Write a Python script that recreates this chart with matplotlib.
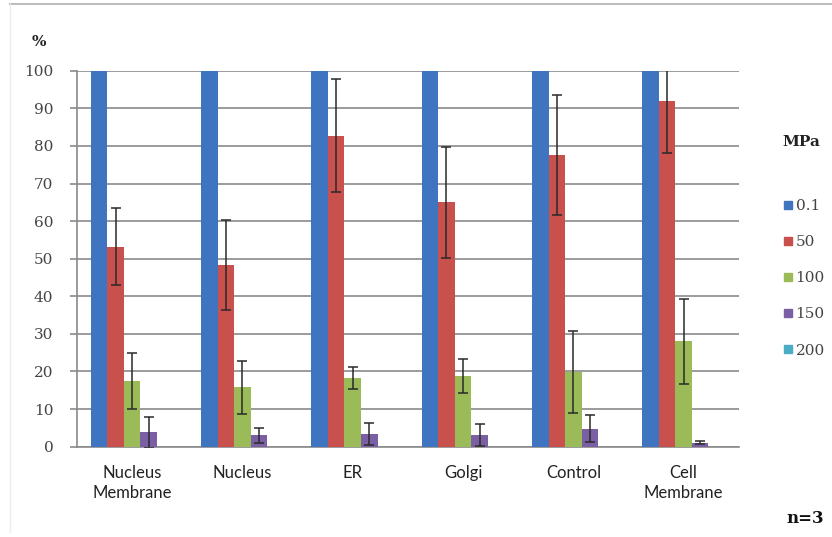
import numpy as np
import matplotlib.pyplot as plt
from matplotlib.lines import Line2D

# survival (%) per organelle target at each pressure, mean with error bars (n = 3)
categories = ["Nucleus\nMembrane", "Nucleus", "ER", "Golgi", "Control", "Cell\nMembrane"]
pressures = ["0.1", "50", "100", "150", "200"]

vals_01 = [100, 100, 100, 100, 100, 100]
vals_50 = [53.2, 48.4, 82.7, 65.0, 77.6, 92.0]
vals_100 = [17.5, 15.8, 18.3, 18.8, 19.9, 28.0]
vals_150 = [3.8, 3.1, 3.4, 3.1, 4.8, 1.1]
vals_200 = [0, 0, 0, 0, 0, 0]

err_01 = [0, 0, 0, 0, 0, 0]
err_50 = [10.3, 12.0, 15.0, 14.8, 16.0, 14.0]
err_100 = [7.5, 7.0, 3.0, 4.4, 11.0, 11.3]
err_150 = [4.2, 2.0, 3.0, 2.8, 3.6, 0.3]
err_200 = [0, 0, 0, 0, 0, 0]

colors = ["#3F74C0", "#C8504D", "#9BBB59", "#7B5FA5", "#4BACC6"]

all_vals = [vals_01, vals_50, vals_100, vals_150, vals_200]
all_errs = [err_01, err_50, err_100, err_150, err_200]

fig = plt.figure(figsize=(8.32, 5.37), dpi=100)
ax = fig.add_axes([0.0925, 0.1682, 0.7955, 0.7001])

x = np.arange(len(categories))
width = 0.15

for i in range(len(pressures)):
    pos = x + (i - 2) * width
    ax.bar(pos, all_vals[i], width, color=colors[i], zorder=3, label=pressures[i])
    if max(all_errs[i]) > 0:
        ax.errorbar(pos, all_vals[i], yerr=all_errs[i], fmt="none", ecolor="#2a2a2a",
                    elinewidth=1.1, capsize=3.5, capthick=1.1, zorder=4)

ax.set_xlim(-0.5, len(categories) - 0.5)
ax.set_ylim(0, 100)
ax.set_yticks(np.arange(0, 101, 10))
ax.yaxis.grid(True, color="#8a8a8a", linewidth=1.2, zorder=0)
ax.set_axisbelow(True)

ax.set_xticks(x)
ax.set_xticklabels(categories, family="Lato", fontsize=12, color="#222222", linespacing=1.3)
ax.tick_params(axis="x", length=0, pad=13)
ax.tick_params(axis="y", length=5, width=1.2, color="#8a8a8a", pad=12,
               labelsize=11, labelcolor="#444444")
for lab in ax.get_yticklabels():
    lab.set_family("DejaVu Serif")

for s in ["top", "right"]:
    ax.spines[s].set_visible(False)
ax.spines["left"].set_color("#8a8a8a")
ax.spines["left"].set_linewidth(1.2)
ax.spines["bottom"].set_color("#8a8a8a")
ax.spines["bottom"].set_linewidth(1.2)

# legend, built by hand to sit like the original
fig.text(0.9405, 0.735, "MPa", family="DejaVu Serif", fontweight="bold", fontsize=11,
         ha="left", va="center", color="#222222")
handles = [Line2D([], [], marker="s", linestyle="none", markersize=6, color=c) for c in colors]
leg = fig.legend(handles, pressures, loc="upper left", bbox_to_anchor=(0.925, 0.655),
                 frameon=False, handlelength=0.6, handletextpad=0.2, labelspacing=1.45,
                 prop={"family": "DejaVu Serif", "size": 11})
for t in leg.get_texts():
    t.set_color("#444444")

fig.text(0.0465, 0.922, "%", family="DejaVu Serif", fontweight="bold", fontsize=11,
         ha="center", va="center", color="#222222")
fig.text(0.9675, 0.034, "n=3", family="DejaVu Serif", fontweight="bold", fontsize=12,
         ha="center", va="center", color="#111111")

# thin frame line at the top and left like the screenshot
fig.add_artist(Line2D([0.012, 1.0], [0.992, 0.992], color="#bdbdbd", linewidth=1.5))
fig.add_artist(Line2D([0.012, 0.012], [0.01, 0.992], color="#ececec", linewidth=1.0))

fig.savefig("out.png", dpi=100)
